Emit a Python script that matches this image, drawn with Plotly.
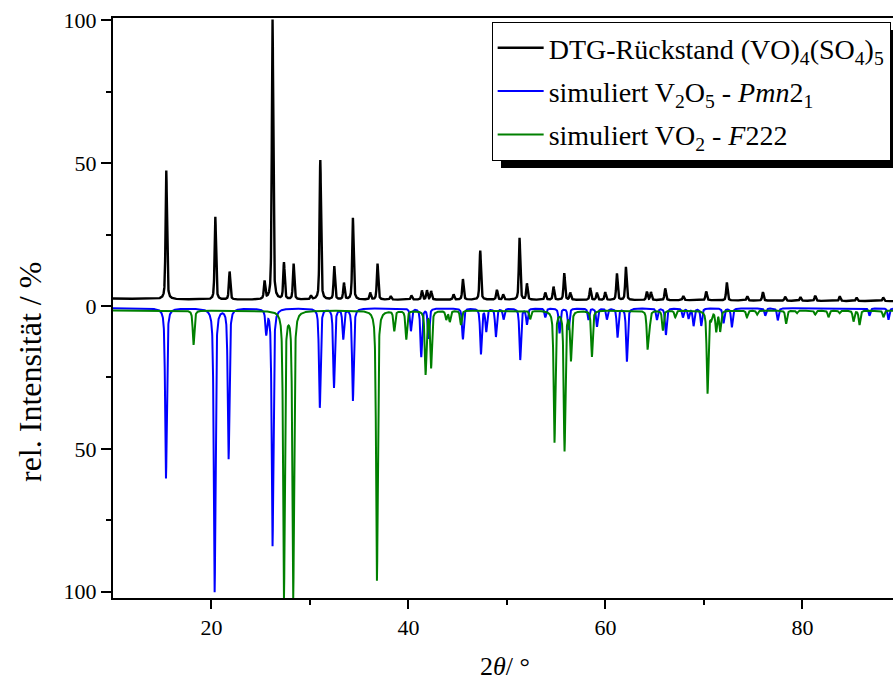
import numpy as np
import plotly.graph_objects as go

# ---------------- data ----------------
# measured pattern: peak positions (2theta / deg) and heights (rel. %)
obs_pos = [15.41, 20.39, 21.84, 25.39, 26.20, 27.36, 28.34, 30.10, 31.05, 32.47,
           33.45, 34.36, 36.12, 36.86, 38.20, 40.30, 41.37, 41.88, 42.30, 44.58,
           45.53, 47.29, 48.98, 49.62, 51.28, 52.03, 53.89, 54.73, 55.82, 56.43,
           58.46, 59.14, 59.98, 61.17, 62.08, 64.21, 64.62, 66.07, 67.90, 70.23,
           72.33, 74.40, 75.99, 78.25, 79.80, 81.30, 83.80, 85.50, 88.20]
obs_int = [45.0, 29.0, 9.8, 6.2, 98.0, 12.8, 12.5, 1.3, 48.8, 11.6,
           5.8, 28.6, 2.4, 12.6, 1.2, 1.5, 3.2, 3.2, 3.0, 1.8,
           7.2, 17.2, 3.4, 1.8, 21.6, 5.6, 2.5, 4.6, 9.3, 2.5,
           4.2, 2.5, 2.7, 9.3, 11.6, 2.9, 2.8, 4.1, 1.5, 3.1,
           6.3, 1.5, 3.0, 1.4, 1.3, 1.8, 1.6, 1.2, 1.3]
# background of the measured pattern
bg_pos = [10, 20, 30, 40, 50, 60, 70, 80, 89.2]
bg_val = [2.6, 2.2, 2.2, 2.2, 2.2, 2.1, 2.0, 1.8, 1.7]

# simulated V2O5 (Pmn2_1): reflections and intensities (plotted downward)
v2o5_pos = [15.38, 20.32, 21.74, 25.56, 26.20, 31.00, 32.44, 33.38, 34.36, 40.25,
            41.30, 42.04, 45.53, 47.36, 47.90, 48.88, 49.66, 51.35, 52.03, 53.90,
            55.34, 56.26, 58.28, 59.14, 60.15, 61.23, 62.18, 65.23, 66.14, 67.87,
            68.44, 68.95, 69.73, 71.99, 72.84, 76.23, 77.50, 86.81, 88.74]
v2o5_int = [59.5, 99.2, 52.5, 8.3, 83.1, 34.7, 27.6, 10.5, 32.3, 7.9,
            16.9, 10.5, 10.8, 15.9, 7.9, 9.9, 3.8, 18.0, 5.5, 3.1,
            8.7, 7.5, 4.0, 6.4, 3.8, 10.1, 18.6, 4.0, 9.3, 3.1,
            3.5, 6.1, 6.1, 5.2, 6.6, 2.6, 4.2, 2.6, 4.0]

# simulated VO2 (F222)
vo2_pos = [18.18, 27.36, 28.30, 36.80, 38.56, 39.78, 41.74, 42.30, 43.84, 44.20,
           45.33, 52.36, 54.83, 55.85, 56.50, 58.63, 64.28, 64.47, 65.84, 67.09,
           70.37, 70.74, 71.25, 71.65, 74.37, 75.40, 78.35, 79.44, 81.30, 82.65,
           83.77, 85.19, 85.80, 88.23]
vo2_int = [12.0, 100.0, 100.0, 94.5, 7.0, 10.0, 22.1, 19.8, 3.0, 3.8,
           5.0, 3.0, 45.9, 48.8, 17.0, 16.1, 12.8, 5.0, 6.9, 2.3,
           28.9, 2.4, 7.1, 7.1, 2.3, 1.4, 4.6, 0.9, 1.4, 2.3,
           0.9, 3.8, 5.0, 2.3]

offset_v2o5 = 0.8
offset_vo2 = 1.6

legend_names = [
    "DTG-Rückstand (VO)<sub>4</sub>(SO<sub>4</sub>)<sub>5</sub>",
    "simuliert V<sub>2</sub>O<sub>5</sub> - <i>Pmn</i>2<sub>1</sub>",
    "simuliert VO<sub>2</sub> - <i>F</i>222",
]
y_tickvals = [-100, -50, 0, 50, 100]
y_ticktext = ["100", "50", "0", "50", "100"]
x_tickvals = [20, 40, 60, 80]

# ---------------- profiles built from the peak lists ----------------
x = np.arange(10.0, 89.2001, 0.01)


def pattern(pos, inten, fwhm, eta):
    y = np.zeros_like(x)
    g = fwhm / 2.0
    s = fwhm / 2.3548
    for p, h in zip(pos, inten):
        lor = 1.0 / (1.0 + ((x - p) / g) ** 2)
        gau = np.exp(-0.5 * ((x - p) / s) ** 2)
        y += h * (eta * lor + (1 - eta) * gau)
    return y


y_obs = np.interp(x, bg_pos, bg_val) + pattern(obs_pos, obs_int, 0.17, 0.5)
y_v2o5 = -(offset_v2o5 + pattern(v2o5_pos, v2o5_int, 0.2, 0.6))
y_vo2 = -(offset_vo2 + pattern(vo2_pos, vo2_int, 0.2, 0.6))

FONT = "Liberation Serif"

fig = go.Figure()
fig.add_trace(go.Scatter(x=x, y=y_obs, mode="lines", name=legend_names[0],
                         legendgroup="a",
                         line=dict(color="#000000", width=2.4)))
fig.add_trace(go.Scatter(x=x, y=y_v2o5, mode="lines", name=legend_names[1],
                         legendgroup="b",
                         line=dict(color="#0000FF", width=2)))
fig.add_trace(go.Scatter(x=x, y=y_vo2, mode="lines", name=legend_names[2],
                         legendgroup="c",
                         line=dict(color="#008000", width=2)))

# legend drop shadow
fig.add_shape(type="rect", xref="paper", yref="paper",
              x0=(501 - 113) / 780, x1=1.02, y0=(598 - 168) / 580, y1=(598 - 30) / 580,
              fillcolor="black", line=dict(width=0), layer="above")

fig.update_layout(
    width=893, height=689,
    margin=dict(l=113, r=0, t=18, b=91),
    paper_bgcolor="white", plot_bgcolor="white",
    font=dict(family=FONT, color="black", size=22),
    showlegend=True,
    legend=dict(x=0.997, y=(598 - 22) / 580, xanchor="right", yanchor="top",
                bgcolor="white", bordercolor="black", borderwidth=1,
                font=dict(family=FONT, size=28, color="black"),
                itemwidth=46, tracegroupgap=4),
    xaxis=dict(range=[10, 89.2], showline=True, linecolor="black", linewidth=2,
               mirror=True, ticks="outside", ticklen=9, tickwidth=2, tickcolor="black",
               tickvals=x_tickvals, showgrid=False, zeroline=False,
               tickfont=dict(family=FONT, size=22),
               minor=dict(tickvals=[30, 50, 70], ticks="outside", ticklen=5,
                          tickwidth=2, tickcolor="black", showgrid=False)),
    yaxis=dict(range=[-102.2, 100.8], showline=True, linecolor="black", linewidth=2,
               ticks="outside", ticklen=10, tickwidth=2, tickcolor="black",
               tickvals=y_tickvals, ticktext=y_ticktext, showgrid=False, zeroline=False,
               tickfont=dict(family=FONT, size=22),
               minor=dict(tickvals=[-75, -25, 25, 75], ticks="outside", ticklen=5,
                          tickwidth=2, tickcolor="black", showgrid=False)),
)

fig.add_annotation(text="rel. Intensität / %", xref="paper", yref="paper",
                   x=(30 - 113) / 780, y=(598 - 372) / 580, textangle=-90,
                   showarrow=False, font=dict(family=FONT, size=32),
                   xanchor="center", yanchor="middle")
fig.add_annotation(text="2<i>θ</i>/ °", xref="paper", yref="paper",
                   x=(505 - 113) / 780, y=(598 - 666) / 580,
                   showarrow=False, font=dict(family=FONT, size=26),
                   xanchor="center", yanchor="middle")

fig.write_html("out.html")
